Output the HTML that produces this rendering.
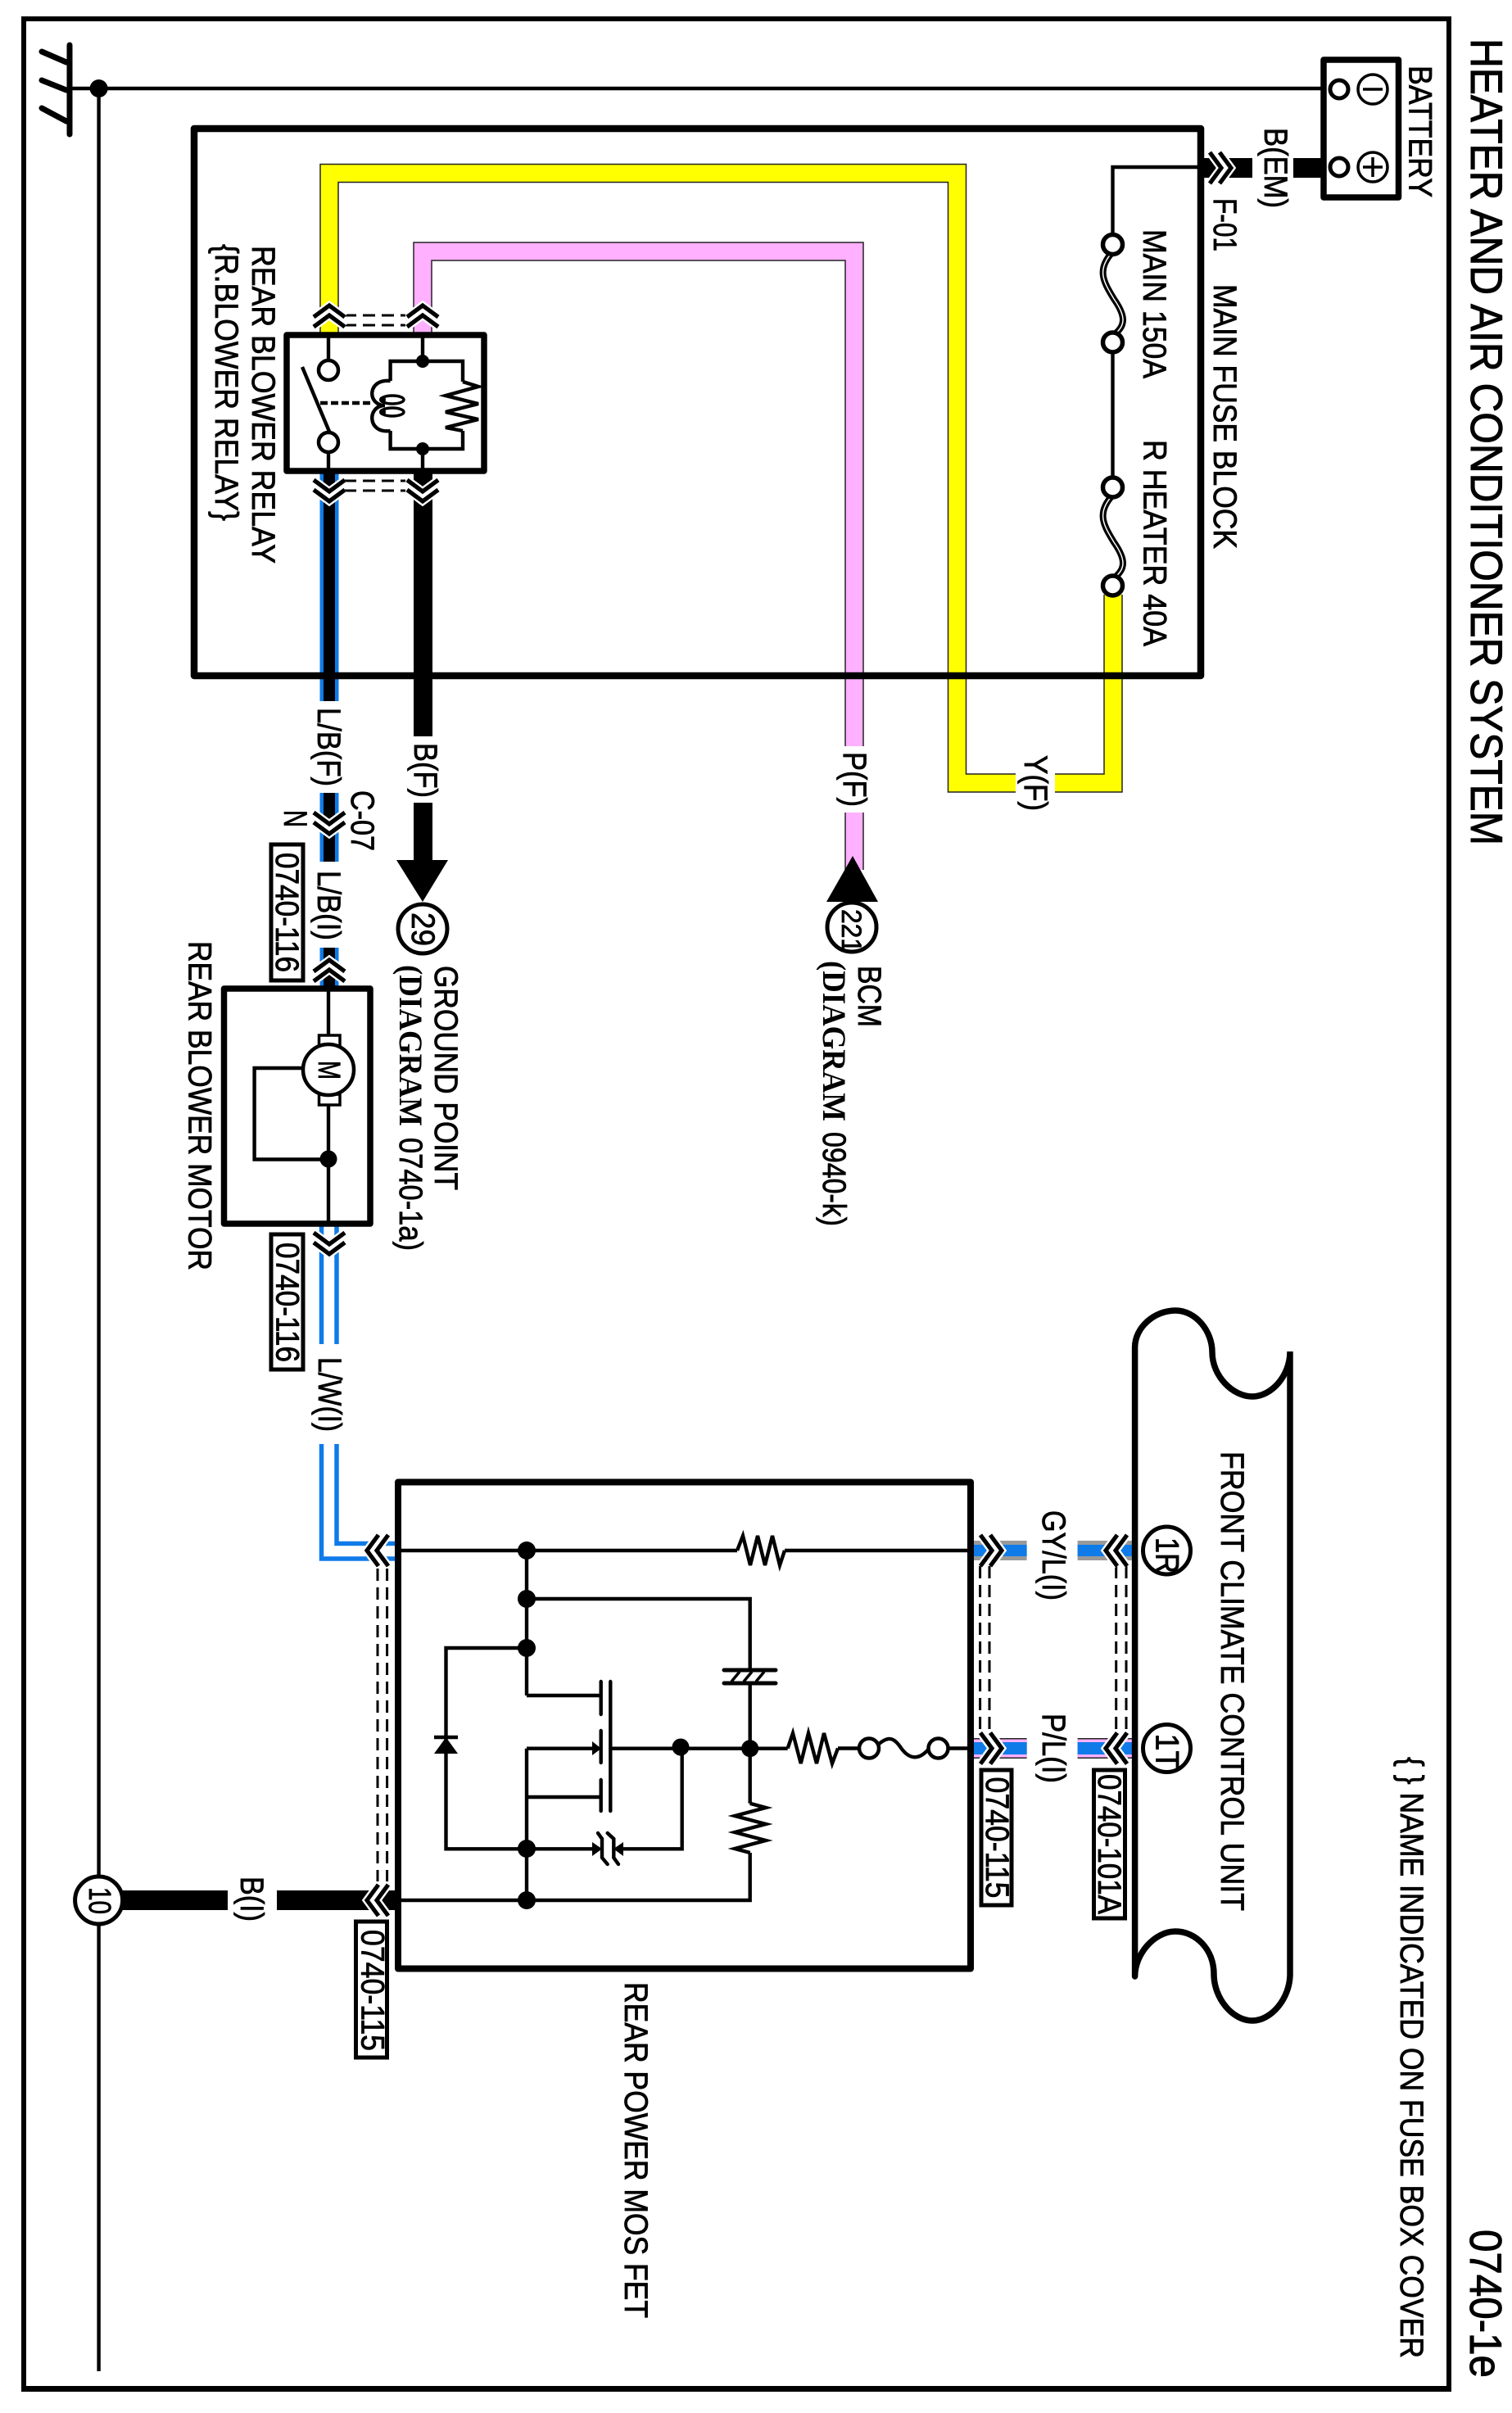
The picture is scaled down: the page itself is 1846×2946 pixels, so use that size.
<!DOCTYPE html>
<html><head><meta charset="utf-8"><title>Heater and Air Conditioner System</title>
<style>
html,body{margin:0;padding:0;background:#fff;width:1846px;height:2946px;overflow:hidden}
svg{display:block}
text{font-family:"Liberation Sans",sans-serif;font-size:40px;fill:#000;stroke:#000;stroke-width:.8}
.t{font-size:55px;stroke-width:1}
.d{font-family:"Liberation Serif",serif;font-weight:bold;font-size:40px;stroke-width:0}
.th{fill:none;stroke:#000;stroke-width:4.4}
.ds{fill:none;stroke:#000;stroke-width:3;stroke-dasharray:15 8}
</style></head><body>
<svg xmlns="http://www.w3.org/2000/svg" width="1846" height="2946" viewBox="0 0 1846 2946">
<defs>
<g id="ch"><path d="M-19 0L0 14L19 0M-19 12L0 26L19 12" fill="none" stroke="#fff" stroke-width="10"/><path d="M-19 0L0 14L19 0M-19 12L0 26L19 12" fill="none" stroke="#000" stroke-width="5.2"/></g>
</defs>
<rect width="1846" height="2946" fill="#fff"/>

<!-- outer frame -->
<path d="M29 23H1769V2917H29Z" fill="none" stroke="#000" stroke-width="6"/>
<rect x="26" y="2913" width="1746" height="7" fill="#000"/>

<!-- ground -->
<path d="M85 55V164" fill="none" stroke="#000" stroke-width="7" stroke-linecap="round"/>
<path d="M51 63L81 76M51 98L81 110M51 132L81 148" fill="none" stroke="#000" stroke-width="7" stroke-linecap="round"/>
<path d="M85 108H1616M120.6 108V2895" class="th"/>
<circle cx="120.6" cy="108" r="11"/>

<!-- yellow and pink wires -->
<g fill="none" stroke-linejoin="miter">
<path d="M402 409V211.5H1168.5V956H1240M1288 956H1359V726" stroke="#222" stroke-width="23.5"/>
<path d="M402 409V211.5H1168.5V956H1240M1288 956H1359V726" stroke="#ff0" stroke-width="20.5"/>
<path d="M516 409V307H1043V911M1043 992V1062" stroke="#222" stroke-width="23.5"/>
<path d="M516 409V307H1043V911M1043 992V1062" stroke="#ffb0ff" stroke-width="20.5"/>
</g>

<!-- black / blue wires -->
<g fill="none">
<path d="M402 575V856M402 968V1052M402 1157V1207" stroke="#0f7be8" stroke-width="23"/>
<path d="M402 575V856M402 968V1052M402 1157V1207" stroke="#000" stroke-width="14"/>
<path d="M516.500 575V899M516.500 980V1052" stroke="#000" stroke-width="23"/>
<path d="M392.500 1496V1641M392.500 1763V1903H486M411 1496V1641M411 1763V1884.500H486" stroke="#0f7be8" stroke-width="5.500"/>
<path d="M1579 205H1616M1470 205H1529" stroke="#000" stroke-width="24"/>
<path d="M278 2320H150M338 2320H486" stroke="#000" stroke-width="24"/>
<path d="M1188 1893H1253.600M1315.600 1893H1384" stroke="#999" stroke-width="24"/>
<path d="M1188 1893H1253.600M1315.600 1893H1384" stroke="#0f7be8" stroke-width="14"/>
<path d="M1188 2134.500H1253.600M1315.600 2134.500H1384" stroke="#222" stroke-width="25"/>
<path d="M1188 2134.500H1253.600M1315.600 2134.500H1384" stroke="#ffb0ff" stroke-width="22"/>
<path d="M1188 2134.500H1253.600M1315.600 2134.500H1384" stroke="#0f7be8" stroke-width="15"/>
</g>
<path d="M484 1050H547L516 1101Z"/>
<path d="M1009 1101H1072L1041 1045Z"/>

<!-- main fuse block -->
<path d="M237 157H1466V825H237Z" fill="none" stroke="#000" stroke-width="8.500" stroke-linejoin="round"/>
<path d="M1466 204H1358.500V287M1358.500 430V583" class="th"/>
<g>
<path d="M1358 308C1338 330 1348 345 1360 365C1374 385 1376 398 1358 410" fill="none" stroke="#000" stroke-width="8"/>
<path d="M1358 308C1338 330 1348 345 1360 365C1374 385 1376 398 1358 410" fill="none" stroke="#fff" stroke-width="1.500"/>
<path d="M1358 605C1338 627 1348 642 1360 662C1374 682 1376 695 1358 707" fill="none" stroke="#000" stroke-width="8"/>
<path d="M1358 605C1338 627 1348 642 1360 662C1374 682 1376 695 1358 707" fill="none" stroke="#fff" stroke-width="1.500"/>
</g>
<g fill="#fff" stroke="#000" stroke-width="5.500">
<circle cx="1358.500" cy="298.500" r="12"/><circle cx="1358.500" cy="418" r="12"/>
<circle cx="1358.500" cy="595" r="12"/><circle cx="1358.500" cy="715" r="12"/>
</g>

<!-- battery -->
<rect x="1616" y="73" width="91.500" height="168" fill="#fff" stroke="#000" stroke-width="7.500" stroke-linejoin="round"/>
<g fill="#fff" stroke="#000" stroke-width="5">
<circle cx="1635" cy="109" r="11"/><circle cx="1635" cy="204" r="11"/>
</g>
<g fill="none" stroke="#000" stroke-width="3.500">
<circle cx="1676" cy="109" r="18"/><circle cx="1676" cy="204" r="18"/>
<path d="M1664 109H1688M1664 204H1688M1676 192V216"/>
</g>

<!-- relay -->
<rect x="350" y="409" width="241" height="166" fill="#fff" stroke="#000" stroke-width="7.500" stroke-linejoin="round"/>
<path d="M401 409V440M401 552V575M369 448L402.500 528M516 409V441M516 548V575M476.600 465V441H565V466M476.600 526V548H565V526" class="th"/>
<circle cx="401" cy="452" r="12" fill="#fff" stroke="#000" stroke-width="4.500"/>
<circle cx="401" cy="540" r="12" fill="#fff" stroke="#000" stroke-width="4.500"/>
<path d="M391 492H453" fill="none" stroke="#000" stroke-width="4.500" stroke-dasharray="9 4"/>
<circle cx="516" cy="441" r="8"/><circle cx="516" cy="548" r="8"/>
<path d="M565 466L584 472L544 483L584 493L544 503L584 512L544 522L565 526" class="th"/>
<path d="M476.600 465C448 462 448 495 470 495C448 495 448 530 476.600 526" class="th"/>
<ellipse cx="479" cy="488" rx="14" ry="5" class="th" style="stroke-width:3.500"/>
<ellipse cx="479" cy="503" rx="14" ry="5" class="th" style="stroke-width:3.500"/>
<circle cx="467" cy="488" r="4"/><circle cx="467" cy="503" r="4"/>
<path d="M420 385H495M420 397H495M420 587H495M420 599H495" class="ds"/>

<!-- motor -->
<rect x="273.500" y="1207" width="178.500" height="287" fill="#fff" stroke="#000" stroke-width="7.500" stroke-linejoin="round"/>
<path d="M401 1207V1264M401 1349V1494M370 1304H310.600V1415.500H401" class="th"/>
<rect x="389.500" y="1264" width="25.500" height="13" fill="#fff" stroke="#000" stroke-width="3.500"/>
<rect x="389.500" y="1336" width="25.500" height="13" fill="#fff" stroke="#000" stroke-width="3.500"/>
<circle cx="401" cy="1306" r="31" fill="#fff" stroke="#000" stroke-width="4.500"/>
<circle cx="401" cy="1415" r="10.500"/>

<!-- MOS FET box -->
<rect x="486" y="1809.500" width="699" height="594" fill="none" stroke="#000" stroke-width="8" stroke-linejoin="round"/>
<path d="M486 1893H900M958 1893H1185M643 1893V2070M643 2134.700V2320M486 2320H915.700V2262M643 1952H915.700V2039M915.700 2055V2201.700" class="th"/>
<path d="M643 2012H544.500V2257.300H723M643 2070H733.700M643 2134.700H725M643 2194H733.700M745.300 2134.700H961.700M1023 2134.500H1049M1158 2134.500H1185M832.700 2134V2257.300H760" class="th"/>
<path d="M900 1893L907 1875L916 1911L925 1875L934 1911L943 1875L952 1911L958 1893" class="th"/>
<path d="M915.700 2201.700L935 2207L897 2217L935 2227L897 2237L935 2247L897 2257L915.700 2262" class="th"/>
<path d="M961.700 2134.500L968 2116L977.700 2153L987 2116L997 2153L1006 2116L1016 2153L1023 2134.500" class="th"/>
<path d="M1071 2131C1085 2118 1092 2122 1100 2134C1110 2148 1122 2150 1135 2134" class="th"/>
<circle cx="1061" cy="2134.500" r="12" fill="#fff" stroke="#000" stroke-width="4.500"/>
<circle cx="1145.500" cy="2134.500" r="12" fill="#fff" stroke="#000" stroke-width="4.500"/>
<g fill="#000">
<circle cx="643" cy="1893" r="11"/><circle cx="643" cy="1952" r="11"/><circle cx="643" cy="2012" r="11"/>
<circle cx="643" cy="2257" r="11"/><circle cx="643" cy="2320" r="11"/>
<circle cx="831" cy="2133" r="10.500"/><circle cx="915.700" cy="2134.700" r="10.500"/>
<path d="M544.500 2121L559 2141H530Z"/>
<path d="M723 2126L734 2134.700L723 2143Z"/>
<path d="M723 2249L735 2257.300L723 2266Z"/>
<path d="M761 2249L749 2257.300L761 2266Z"/>
</g>
<path d="M530 2121H559" class="th"/>
<path d="M733.700 2053V2093M733.700 2113V2152M733.700 2173V2211M745.300 2053V2211" class="th" stroke-linecap="round"/>
<path d="M730 2238L735 2245V2268L741.700 2276M741.700 2238L749.300 2245V2268L755 2276" class="th" stroke-linecap="round"/>
<path d="M884 2039H947M884 2055H947" fill="none" stroke="#000" stroke-width="5" stroke-linecap="round"/>
<path d="M893 2053L903 2041M908 2053L918 2041M923 2053L933 2041" fill="none" stroke="#000" stroke-width="3.500"/>

<!-- climate unit -->
<path d="M1385.600 2413V1645C1385.600 1620 1410 1600 1435 1600C1460 1600 1480 1625 1480 1651C1480 1680 1505 1705 1529 1705C1552 1705 1575 1680 1575 1650V2410C1575 2440 1552 2467 1529 2467C1505 2467 1482 2440 1482 2410C1482 2380 1460 2358 1435 2358C1410 2358 1385.600 2385 1385.600 2413" fill="none" stroke="#000" stroke-width="7.500" stroke-linecap="round"/>

<!-- vertical dash pairs -->
<path d="M461 1915V2297M472.600 1915V2297M1196.600 1912V2117M1208 1912V2117M1362.700 1912V2117M1375 1912V2117" class="ds"/>

<!-- chevrons -->
<use href="#ch" transform="translate(402,399) rotate(180)"/>
<use href="#ch" transform="translate(516,399) rotate(180)"/>
<use href="#ch" transform="translate(402,586)"/>
<use href="#ch" transform="translate(516,586)"/>
<use href="#ch" transform="translate(402,992)"/>
<use href="#ch" transform="translate(402,1198) rotate(180)"/>
<use href="#ch" transform="translate(402,1505)"/>
<use href="#ch" transform="translate(474,1893) rotate(90)"/>
<use href="#ch" transform="translate(474,2320) rotate(90)"/>
<use href="#ch" transform="translate(1197,1893) rotate(-90)"/>
<use href="#ch" transform="translate(1197,2134.500) rotate(-90)"/>
<use href="#ch" transform="translate(1376,1893) rotate(90)"/>
<use href="#ch" transform="translate(1376,2134.500) rotate(90)"/>
<use href="#ch" transform="translate(1477,205) rotate(-90)"/>

<!-- labelled boxes & circles -->
<g fill="#fff" stroke="#000" stroke-width="5">
<rect x="331" y="1031" width="39" height="166"/>
<rect x="331" y="1507" width="39" height="165"/>
<rect x="434.500" y="2346" width="38" height="166"/>
<rect x="1198" y="2161" width="37" height="165"/>
<rect x="1335.500" y="2161" width="38" height="181"/>
<circle cx="516" cy="1134" r="30"/>
<circle cx="1040" cy="1132" r="30"/>
<circle cx="120.600" cy="2320" r="29"/>
<circle cx="1424.500" cy="1893" r="29"/>
<circle cx="1424.500" cy="2134.500" r="29"/>
</g>

<!-- text -->
<text class="t" transform="translate(1796,47) rotate(90)" textLength="985" lengthAdjust="spacingAndGlyphs">HEATER AND AIR CONDITIONER SYSTEM</text>
<text class="t" transform="translate(1795,2722) rotate(90)" textLength="181" lengthAdjust="spacingAndGlyphs">0740-1e</text>
<text transform="translate(1720.500,80) rotate(90)" textLength="161" lengthAdjust="spacingAndGlyphs">BATTERY</text>
<text transform="translate(1544,156) rotate(90)" textLength="98" lengthAdjust="spacingAndGlyphs">B(EM)</text>
<text transform="translate(1482,242) rotate(90)" textLength="65" lengthAdjust="spacingAndGlyphs">F-01</text>
<text transform="translate(1482,347) rotate(90)" textLength="323" lengthAdjust="spacingAndGlyphs">MAIN FUSE BLOCK</text>
<text transform="translate(1396,280) rotate(90)" textLength="182" lengthAdjust="spacingAndGlyphs">MAIN 150A</text>
<text transform="translate(1396.500,537) rotate(90)" textLength="252" lengthAdjust="spacingAndGlyphs">R HEATER 40A</text>
<text transform="translate(308,300) rotate(90)" textLength="388" lengthAdjust="spacingAndGlyphs">REAR BLOWER RELAY</text>
<text transform="translate(263,298) rotate(90)" textLength="338" lengthAdjust="spacingAndGlyphs">{R.BLOWER RELAY}</text>
<text transform="translate(388,864) rotate(90)" textLength="96" lengthAdjust="spacingAndGlyphs">L/B(F)</text>
<text transform="translate(506,907) rotate(90)" textLength="67" lengthAdjust="spacingAndGlyphs">B(F)</text>
<text transform="translate(1030,918) rotate(90)" textLength="67" lengthAdjust="spacingAndGlyphs">P(F)</text>
<text transform="translate(1251,922) rotate(90)" textLength="68" lengthAdjust="spacingAndGlyphs">Y(F)</text>
<text transform="translate(429,965) rotate(90)" textLength="74" lengthAdjust="spacingAndGlyphs">C-07</text>
<text transform="translate(347,989) rotate(90)" textLength="21" lengthAdjust="spacingAndGlyphs">N</text>
<text transform="translate(388,1063) rotate(90)" textLength="85" lengthAdjust="spacingAndGlyphs">L/B(I)</text>
<text transform="translate(337,1041) rotate(90)" textLength="146" lengthAdjust="spacingAndGlyphs">0740-116</text>
<text transform="translate(337.300,1517) rotate(90)" textLength="146" lengthAdjust="spacingAndGlyphs">0740-116</text>
<text transform="translate(531,1179) rotate(90)" textLength="274" lengthAdjust="spacingAndGlyphs">GROUND POINT</text>
<text class="d" transform="translate(488,1178) rotate(90)" textLength="197" lengthAdjust="spacingAndGlyphs">(DIAGRAM</text>
<text transform="translate(488,1389) rotate(90)" textLength="138" lengthAdjust="spacingAndGlyphs">0740-1a)</text>
<text transform="translate(1048,1179) rotate(90)" textLength="75" lengthAdjust="spacingAndGlyphs">BCM</text>
<text class="d" transform="translate(1005,1173) rotate(90)" textLength="196" lengthAdjust="spacingAndGlyphs">(DIAGRAM</text>
<text transform="translate(1005,1382) rotate(90)" textLength="115" lengthAdjust="spacingAndGlyphs">0940-k)</text>
<text transform="translate(230.600,1149) rotate(90)" textLength="402" lengthAdjust="spacingAndGlyphs">REAR BLOWER MOTOR</text>
<text transform="translate(389,1657) rotate(90)" textLength="91" lengthAdjust="spacingAndGlyphs">L/W(I)</text>
<text transform="translate(294,2291) rotate(90)" textLength="55" lengthAdjust="spacingAndGlyphs">B(I)</text>
<text transform="translate(441.500,2356) rotate(90)" textLength="148" lengthAdjust="spacingAndGlyphs">0740-115</text>
<text transform="translate(763,2420) rotate(90)" textLength="410" lengthAdjust="spacingAndGlyphs">REAR POWER MOS FET</text>
<text transform="translate(1273,1844) rotate(90)" textLength="110" lengthAdjust="spacingAndGlyphs">GY/L(I)</text>
<text transform="translate(1273,2092) rotate(90)" textLength="85" lengthAdjust="spacingAndGlyphs">P/L(I)</text>
<text transform="translate(1204,2169.500) rotate(90)" textLength="148" lengthAdjust="spacingAndGlyphs">0740-115</text>
<text transform="translate(1341,2166) rotate(90)" textLength="171" lengthAdjust="spacingAndGlyphs">0740-101A</text>
<text transform="translate(1491,1772) rotate(90)" textLength="561" lengthAdjust="spacingAndGlyphs">FRONT CLIMATE CONTROL UNIT</text>
<text transform="translate(1710,2145) rotate(90)" textLength="734" lengthAdjust="spacingAndGlyphs">{ } NAME INDICATED ON FUSE BOX COVER</text>
<text transform="translate(503,1114) rotate(90)" textLength="41" lengthAdjust="spacingAndGlyphs">29</text>
<text transform="translate(1028,1110) rotate(90)" textLength="53" lengthAdjust="spacingAndGlyphs" style="font-size:34px">221</text>
<text transform="translate(109,2304) rotate(90)" textLength="33" lengthAdjust="spacingAndGlyphs" style="font-size:38px">10</text>
<text transform="translate(1411.500,1877) rotate(90)" textLength="44" lengthAdjust="spacingAndGlyphs">1R</text>
<text transform="translate(1411.500,2116.500) rotate(90)" textLength="44" lengthAdjust="spacingAndGlyphs">1T</text>
<text transform="translate(389,1295) rotate(90)" textLength="23" lengthAdjust="spacingAndGlyphs" style="font-size:38px">M</text>
</svg>
</body></html>
